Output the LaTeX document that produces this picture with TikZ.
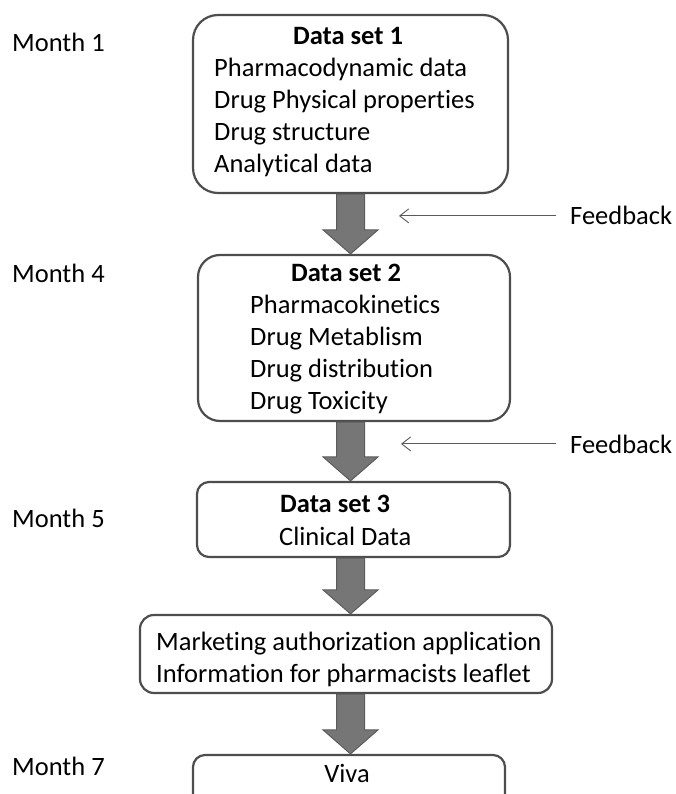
\documentclass[tikz,border=0pt]{standalone}
\usepackage{fontspec}
\setmainfont{Carlito}[Ligatures={NoCommon}]
\usetikzlibrary{arrows.meta,calc}
\definecolor{boxedge}{HTML}{4D4D4D}
\definecolor{arrowfill}{HTML}{767676}
\definecolor{arrowedge}{HTML}{5C5C5C}
\definecolor{fbline}{HTML}{5A5A5A}
\begin{document}
\begin{tikzpicture}[x=1pt,y=-1pt,
  box/.style={draw=boxedge, line width=2.2pt, fill=white, inner sep=0pt},
  txt/.style={font=\fontsize{26.5}{32}\selectfont, inner sep=0pt, anchor=base west, text=black},
  ttl/.style={font=\fontsize{26.5}{32}\selectfont\bfseries, inner sep=0pt, anchor=base, text=black},
  bigarrow/.style={draw=arrowedge, line width=1pt, fill=arrowfill,
    to path={let \p1=(\tikztostart), \p2=(\tikztotarget) in
      (\x1-14pt,\y1) -- (\x1-14pt,\y2+24pt) -- (\x1-27.5pt,\y2+24pt) -- (\x1,\y2)
      -- (\x1+27.5pt,\y2+24pt) -- (\x1+14pt,\y2+24pt) -- (\x1+14pt,\y1) -- cycle}},
  fb/.style={draw=fbline, line width=0.9pt, shorten <=14pt, -{Straight Barb[length=9pt,width=14pt]}}]
\useasboundingbox (0,0) rectangle (676,794);
\clip (0,0) rectangle (676,794);

% boxes
\node[box, rounded corners=25pt, minimum width=315pt, minimum height=178pt] (b1) at (350.5,104) {};
\node[box, rounded corners=22pt, minimum width=312pt, minimum height=166pt] (b2) at (354,338) {};
\node[box, rounded corners=12pt, minimum width=313pt, minimum height=75pt] (b3) at (353.5,519.5) {};
\node[box, rounded corners=14pt, minimum width=412pt, minimum height=78pt] (b4) at (346,654) {};
\node[box, rounded corners=12pt, minimum width=312pt, minimum height=70pt] (b5) at (349,790) {};

% block arrows
\draw[bigarrow] (b1.south) to (b1.south |- b2.north);
\draw[bigarrow] (b1.south |- b2.south) to (b1.south |- b3.north);
\draw[bigarrow] (b1.south |- b3.south) to (b1.south |- b4.north);
\draw[bigarrow] (b1.south |- b4.south) to (b1.south |- b5.north);

% box 1 text
\node[ttl] (t1) at (348,45) {Data set 1};
\node[txt] (t1a) at (214,77) {Pharmacodynamic data};
\node[txt] (t1b) at (214,109) {Drug Physical properties};
\node[txt] (t1c) at (214,141) {Drug structure};
\node[txt] (t1d) at (214,173) {Analytical data};

% box 2 text
\node[ttl] (t2) at (346,281) {Data set 2};
\node[txt] (t2a) at (250,313) {Pharmacokinetics};
\node[txt] (t2b) at (250,345) {Drug Metablism};
\node[txt] (t2c) at (250,377) {Drug distribution};
\node[txt] (t2d) at (250,409) {Drug Toxicity};

% box 3 text
\node[txt, font=\fontsize{26.5}{32}\selectfont\bfseries] (t3) at (280,512) {Data set 3};
\node[txt] (t3a) at (279,545) {Clinical Data};

% box 4 text
\node[txt] (t4a) at (156,650) {Marketing authorization application};
\node[txt] (t4b) at (156,682) {Information for pharmacists leaflet};

% box 5 text
\node[ttl, font=\fontsize{26.5}{32}\selectfont] (t5) at (347,782) {Viva};

% months
\node[txt] (m1) at (12,52) {Month 1};
\node[txt] (m4) at (12,282) {Month 4};
\node[txt] (m5) at (12,527) {Month 5};
\node[txt] (m7) at (12,775) {Month 7};

% feedback
\node[txt] (fb1) at (570,225) {Feedback};
\node[txt] (fb2) at (570,453) {Feedback};
\coordinate (fb1tip) at (399,216);
\coordinate (fb2tip) at (401,446);
\draw[fb] (fb1.west) -- (fb1.west -| fb1tip);
\draw[fb] (fb2.west) -- (fb2.west -| fb2tip);
\end{tikzpicture}
\end{document}
